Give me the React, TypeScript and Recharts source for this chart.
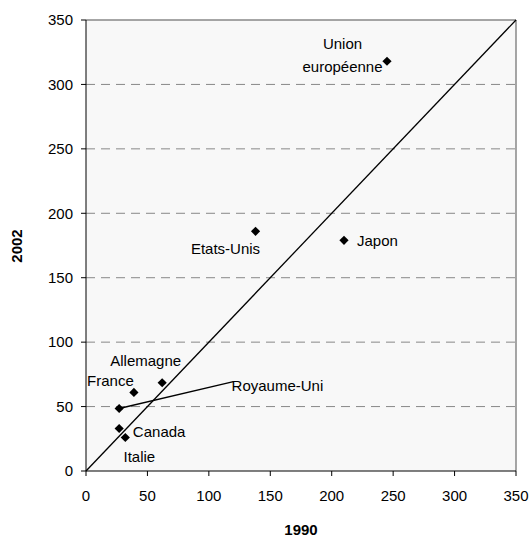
import React from 'react';
import { ScatterChart, Scatter, XAxis, YAxis, CartesianGrid, ReferenceLine } from 'recharts';

const countries = ['Union européenne', 'Etats-Unis', 'Japon', 'Allemagne', 'France', 'Royaume-Uni', 'Canada', 'Italie'];
const values1990 = [245, 138, 210, 62, 39, 27, 27, 32];
const values2002 = [318, 186, 179, 68.5, 61, 48.5, 33, 26];
const xTicks = [0, 50, 100, 150, 200, 250, 300, 350];
const yTicks = [0, 50, 100, 150, 200, 250, 300, 350];
const gridValues = [50, 100, 150, 200, 250, 300];
const diagonal = [{ x: 0, y: 0 }, { x: 350, y: 350 }];
const ukLeader = [{ x: 27, y: 48.5 }, { x: 120, y: 69.3 }];

const data = countries.map((name, i) => ({ name, x: values1990[i], y: values2002[i] }));

const FONT = 'Liberation Sans, Arial, sans-serif';

type LabelLayout = { dx: number; dy: number[]; anchor: 'start' | 'middle' | 'end'; lines: string[] };
const labelLayout: Record<string, LabelLayout> = {
  'Union européenne': { dx: -44.5, dy: [-18, 5], anchor: 'middle', lines: ['Union', 'européenne'] },
  'Etats-Unis': { dx: -30, dy: [17.5], anchor: 'middle', lines: ['Etats-Unis'] },
  'Japon': { dx: 13, dy: [0], anchor: 'start', lines: ['Japon'] },
  'Allemagne': { dx: -16.5, dy: [-22], anchor: 'middle', lines: ['Allemagne'] },
  'France': { dx: -23.5, dy: [-12], anchor: 'middle', lines: ['France'] },
  'Royaume-Uni': { dx: 112.4, dy: [-22.6], anchor: 'start', lines: ['Royaume-Uni'] },
  'Canada': { dx: 13.7, dy: [2.7], anchor: 'start', lines: ['Canada'] },
  'Italie': { dx: 14, dy: [19], anchor: 'middle', lines: ['Italie'] },
};

const PointShape = (props: any) => {
  const { cx, cy, payload } = props;
  if (cx == null || cy == null) return null;
  const r = 4.6;
  const lay = labelLayout[payload.name];
  return (
    <g>
      <polygon points={`${cx},${cy - r} ${cx + r},${cy} ${cx},${cy + r} ${cx - r},${cy}`} fill="#000" />
      {lay &&
        lay.lines.map((line, i) => (
          <text
            key={i}
            x={cx + lay.dx}
            y={cy + lay.dy[i]}
            textAnchor={lay.anchor}
            dominantBaseline="central"
            fontSize={15}
            fontFamily={FONT}
            fill="#000"
          >
            {line}
          </text>
        ))}
    </g>
  );
};

export default function App() {
  return (
    <div style={{ position: 'absolute', left: 0, top: 0, width: 531, height: 538, background: '#fff' }}>
      <ScatterChart
        width={531}
        height={538}
        margin={{ top: 20, right: 15, bottom: 37, left: 36 }}
        style={{ fontFamily: FONT }}
      >
        <CartesianGrid
          fill="#f8f8f8"
          vertical={false}
          horizontalValues={gridValues}
          stroke="#888"
          strokeDasharray="9 6"
        />
        <XAxis
          type="number"
          dataKey="x"
          domain={[0, 350]}
          ticks={xTicks}
          interval={0}
          allowDataOverflow
          height={30}
          tickSize={5}
          tickMargin={14}
          axisLine={{ stroke: '#000' }}
          tickLine={{ stroke: '#000' }}
          tick={{ fill: '#000', fontSize: 15, fontFamily: FONT }}
          label={() => (
            <text x={301} y={529} textAnchor="middle" dominantBaseline="central" fontWeight="bold" fontSize={15} fontFamily={FONT} fill="#000">
              1990
            </text>
          )}
        />
        <YAxis
          type="number"
          dataKey="y"
          domain={[0, 350]}
          ticks={yTicks}
          interval={0}
          allowDataOverflow
          width={50}
          tickSize={5}
          tickMargin={8}
          axisLine={{ stroke: '#000' }}
          tickLine={{ stroke: '#000' }}
          tick={{ fill: '#000', fontSize: 15, fontFamily: FONT }}
          label={() => (
            <text x={16} y={246} textAnchor="middle" dominantBaseline="central" fontWeight="bold" fontSize={15} fontFamily={FONT} fill="#000" transform="rotate(-90 16 246)">
              2002
            </text>
          )}
        />
        <ReferenceLine y={350} stroke="#888" strokeWidth={1.5} />
        <ReferenceLine x={350} stroke="#888" strokeWidth={1.5} />
        <ReferenceLine segment={diagonal} stroke="#000" strokeWidth={1.3} />
        <ReferenceLine segment={ukLeader} stroke="#000" strokeWidth={1.3} />
        <Scatter data={data} shape={PointShape} isAnimationActive={false} />
      </ScatterChart>
    </div>
  );
}
